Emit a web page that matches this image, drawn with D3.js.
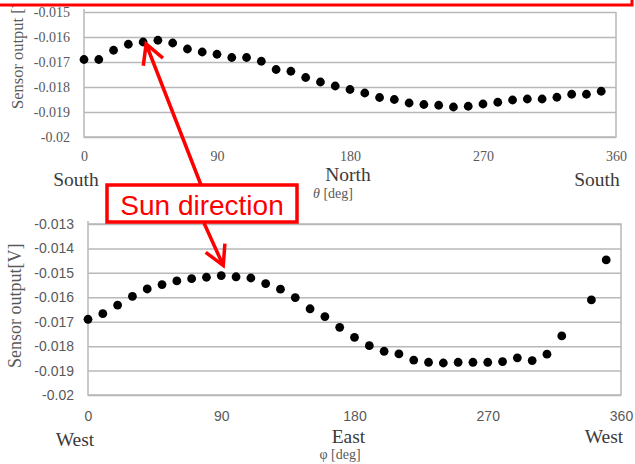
<!DOCTYPE html>
<html>
<head>
  <meta charset="utf-8">
  <script src="https://d3js.org/d3.v7.min.js"></script>
  <style>
    body { margin: 0; background: #fff; }
  </style>
</head>
<body>
  <svg width="635" height="464"></svg>
  <script>
    // theta sweep (top panel), every 10 deg
    var thetaDeg = d3.range(0, 360, 10);
    var thetaOut = [-0.01690, -0.01690, -0.01653, -0.01629, -0.01620, -0.01613, -0.01624, -0.01648,
                    -0.01660, -0.01669, -0.01682, -0.01682, -0.01697, -0.01730, -0.01737, -0.01762,
                    -0.01780, -0.01796, -0.01810, -0.01824, -0.01842, -0.01850, -0.01864, -0.01870,
                    -0.01873, -0.01880, -0.01877, -0.01868, -0.01861, -0.01852, -0.01848, -0.01848,
                    -0.01841, -0.01829, -0.01829, -0.01817];

    // phi sweep (bottom panel), 330 deg missing in the original
    var phiDeg = [0, 10, 20, 30, 40, 50, 60, 70, 80, 90, 100, 110, 120, 130, 140, 150,
                  160, 170, 180, 190, 200, 210, 220, 230, 240, 250, 260, 270, 280, 290, 300,
                  310, 320, 340, 350];
    var phiOut = [-0.01690, -0.01667, -0.01632, -0.01596, -0.01566, -0.01548, -0.01533, -0.01524,
                  -0.01518, -0.01511, -0.01516, -0.01521, -0.01544, -0.01567, -0.01601, -0.01647,
                  -0.01679, -0.01723, -0.01764, -0.01798, -0.01821, -0.01832, -0.01857, -0.01866,
                  -0.01869, -0.01866, -0.01866, -0.01866, -0.01863, -0.01848, -0.01859, -0.01833,
                  -0.01758, -0.01611, -0.01447];

    var xTicks = [0, 90, 180, 270, 360];
    var topYTicks = [-0.02, -0.019, -0.018, -0.017, -0.016, -0.015];
    var botYTicks = [-0.02, -0.019, -0.018, -0.017, -0.016, -0.015, -0.014, -0.013];
    var topDirs = [[0, "South"], [180, "North"], [360, "South"]];
    var botDirs = [[0, "West"], [180, "East"], [360, "West"]];

    var svg = d3.select("svg");
    var grey = "#595959", gridCol = "#b8b8b8", red = "#ff0000";

    // plain hyphen like the original, not the unicode minus
    function fmt(d) { return "-" + String(+Math.abs(d).toFixed(3)); }

    function panel(cfg) {
      var x = d3.scaleLinear().domain([0, 360]).range([cfg.left, cfg.right]);
      var y = d3.scaleLinear().domain(cfg.yDomain).range([cfg.bottom, cfg.top]);
      var g = svg.append("g");

      // horizontal grid + y labels
      var yAxis = g.append("g")
          .attr("transform", "translate(" + cfg.left + ",0)")
          .call(d3.axisLeft(y).tickValues(cfg.yTicks)
                .tickSize(-(cfg.right - cfg.left)).tickPadding(14)
                .tickFormat(fmt));
      yAxis.select(".domain").remove();
      yAxis.selectAll("line").attr("stroke", gridCol).attr("stroke-width", 1.5);
      yAxis.selectAll("text")
          .attr("fill", grey)
          .attr("font-family", cfg.tickFont)
          .attr("font-size", cfg.tickSize);

      // frame
      g.append("path")
          .attr("d", (cfg.closed ? "M" + cfg.left + "," + cfg.top + "H" + cfg.right : "M" + cfg.right + "," + cfg.top) +
                "V" + cfg.bottom + "H" + cfg.left + "V" + (cfg.top - 3))
          .attr("fill", "none").attr("stroke", gridCol).attr("stroke-width", 1.5);

      // x labels
      var xAxis = g.append("g")
          .attr("transform", "translate(0," + cfg.bottom + ")")
          .call(d3.axisBottom(x).tickValues(xTicks).tickSize(0).tickPadding(cfg.xPad));
      xAxis.select(".domain").remove();
      xAxis.selectAll("text")
          .attr("fill", grey)
          .attr("font-family", cfg.tickFont)
          .attr("font-size", cfg.tickSize);

      g.selectAll("text.dir")
          .data(cfg.dirs)
          .enter().append("text")
          .attr("class", "dir")
          .attr("x", function(d, i) { return x(d[0]) + cfg.dirDx[i]; })
          .attr("y", function(d, i) { return cfg.dirY + cfg.dirDy[i]; })
          .attr("text-anchor", "middle")
          .attr("fill", "#3a3a3a")
          .attr("font-family", "Liberation Serif")
          .attr("font-size", 19.5)
          .text(function(d) { return d[1]; });

      g.append("text")
          .attr("x", cfg.unitX).attr("y", cfg.unitY)
          .attr("text-anchor", "middle")
          .attr("fill", grey)
          .attr("font-family", "Liberation Serif")
          .attr("font-size", 14)
          .html(cfg.unit);

      g.append("text")
          .attr("transform", "translate(" + cfg.ylabX + "," + cfg.ylabY + ") rotate(-90)")
          .attr("fill", grey)
          .attr("font-family", "Liberation Serif")
          .attr("font-size", cfg.ylabSize)
          .text(cfg.ylab);

      g.selectAll("circle")
          .data(cfg.xs)
          .enter().append("circle")
          .attr("cx", function(d) { return x(d); })
          .attr("cy", function(d, i) { return y(cfg.ys[i]); })
          .attr("r", 4.4)
          .attr("fill", "#000");

      return {x: x, y: y};
    }

    var topP = panel({
      left: 84, right: 616, top: 12, bottom: 137,
      yDomain: [-0.02, -0.015], yTicks: topYTicks,
      tickFont: "Liberation Serif", tickSize: 14, xPad: 14,
      dirs: topDirs, dirY: 186, dirDx: [-8, -2, -19], dirDy: [0, -5, 0],
      unit: "<tspan font-style='italic'>θ</tspan> [deg]", unitX: 333, unitY: 198,
      ylab: "Sensor output [V]", ylabX: 23, ylabY: 109, ylabSize: 16.5,
      xs: thetaDeg, ys: thetaOut, closed: false
    });

    var botP = panel({
      left: 88, right: 621, top: 224, bottom: 395,
      yDomain: [-0.02, -0.013], yTicks: botYTicks,
      tickFont: "Liberation Sans", tickSize: 14, xPad: 16,
      dirs: botDirs, dirY: 443, dirDx: [-13, -6, -17], dirDy: [3, 0, 0],
      unit: "φ [deg]", unitX: 340, unitY: 459,
      ylab: "Sensor output[V]", ylabX: 21, ylabY: 368, ylabSize: 18,
      xs: phiDeg, ys: phiOut, closed: true
    });

    // strip above the cut-off red box, then its bottom edge
    svg.append("rect")
        .attr("x", 0).attr("y", 0).attr("width", 635).attr("height", 4)
        .attr("fill", "#fff");
    svg.append("path")
        .attr("d", "M0,5H632V-2")
        .attr("fill", "none").attr("stroke", red).attr("stroke-width", 3);

    // arrows from the label box to the peaks
    function arrow(x1, y1, x2, y2) {
      var a = Math.atan2(y1 - y2, x1 - x2), L = 22, w = 0.5;
      svg.append("path")
          .attr("d", "M" + x1 + "," + y1 + "L" + x2 + "," + y2 +
                "M" + (x2 + L * Math.cos(a - w)) + "," + (y2 + L * Math.sin(a - w)) +
                "L" + x2 + "," + y2 +
                "L" + (x2 + L * Math.cos(a + w)) + "," + (y2 + L * Math.sin(a + w)))
          .attr("fill", "none").attr("stroke", red)
          .attr("stroke-width", 3.5).attr("stroke-linejoin", "miter");
    }
    arrow(201, 185, topP.x(40) + 3, topP.y(thetaOut[4]) + 2);
    arrow(204, 223, botP.x(90) + 2, botP.y(phiOut[9]) - 10);

    svg.append("rect")
        .attr("x", 107).attr("y", 185).attr("width", 190).attr("height", 37)
        .attr("fill", "#fff").attr("stroke", red).attr("stroke-width", 3.5);
    svg.append("text")
        .attr("x", 202).attr("y", 215)
        .attr("text-anchor", "middle")
        .attr("fill", red)
        .attr("font-family", "Liberation Sans")
        .attr("font-size", 28)
        .text("Sun direction");
  </script>
</body>
</html>
